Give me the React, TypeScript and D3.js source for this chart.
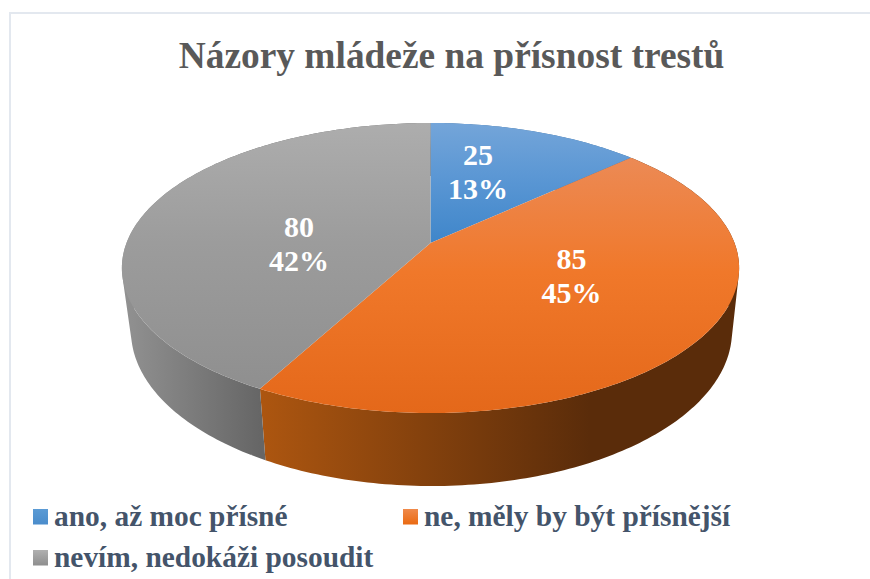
import React from "react";
import * as d3 from "d3";

const categories = ["ano, až moc přísné", "ne, měly by být přísnější", "nevím, nedokáži posoudit"];
const values = [25, 85, 80];
const percents = ["13%", "45%", "42%"];
const titleText = "Názory mládeže na přísnost trestů";
const topColors = [["#74a5d9", "#5b97d4", "#3f86ca"], ["#ec8a55", "#f0782a", "#e4681a"], ["#adadad", "#9c9c9c", "#8f8f8f"]];
const sideColors = [["#3f6f9f", "#3f6f9f"], ["#ad5610", "#5a2c0a"], ["#929292", "#666666"]];
const legendColors = [["#5b9bd5", "#4a8ccb"], ["#f08a4b", "#ea6a12"], ["#b0b0b0", "#8e8e8e"]];
const labelPos = [[478, 171], [571.5, 275], [299, 243]];
const legendPos = [[33, 509], [403, 509], [33, 550]];

const K = 0.1724;
const topDisc = { x0: 430.5, y0: 243, a: 304, b: 140.7 };
const botDisc = { x0: 431.5, y0: 304.3, a: 296, b: 150.4 };

function project(d: typeof topDisc, t: number): [number, number] {
  const u = Math.sin(t), v = -Math.cos(t), q = 1 - K * v;
  return [d.x0 + (d.a * u) / q, d.y0 + (d.b * v) / q];
}
function arcPts(d: typeof topDisc, t0: number, t1: number) {
  const n = Math.max(2, Math.ceil(Math.abs(t1 - t0) * 60));
  return d3.range(n + 1).map((i) => project(d, t0 + ((t1 - t0) * i) / n));
}
const line = d3.line();

function sidePath(t0: number, t1: number) {
  const top = arcPts(topDisc, t0, t1);
  const bot = arcPts(botDisc, t0, t1);
  return d3
    .range(top.length - 1)
    .map((i) => line(d3.polygonHull([top[i], top[i + 1], bot[i], bot[i + 1]])!) + "Z")
    .join("");
}

export default function App() {
  const arcs = d3.pie<number>().sort(null)(values);
  return (
    <svg width={870} height={579} style={{ position: "fixed", left: 0, top: 0, background: "#fff" }} fontFamily="'Liberation Serif'" fontWeight="bold">
      <defs>
        {arcs.map((a, i) => {
          const pts = arcPts(topDisc, a.startAngle, a.endAngle);
          const ys = [...pts.map((p) => p[1]), topDisc.y0];
          return (
            <linearGradient key={i} id={`top${i}`} gradientUnits="userSpaceOnUse" x1={0} x2={0} y1={d3.min(ys)} y2={d3.max(ys)}>
              <stop offset="0" stopColor={topColors[i][0]} />
              <stop offset="0.45" stopColor={topColors[i][1]} />
              <stop offset="1" stopColor={topColors[i][2]} />
            </linearGradient>
          );
        })}
        {arcs.map((a, i) => {
          const pts = arcPts(topDisc, a.startAngle, a.endAngle);
          const xs = pts.map((p) => p[0]).filter((_, j) => pts[j][1] > 250);
          return (
            <linearGradient key={i} id={`side${i}`} gradientUnits="userSpaceOnUse" y1={0} y2={0} x1={d3.min(xs) ?? 0} x2={i === 1 ? 590 : d3.max(xs) ?? 1}>
              <stop offset="0" stopColor={sideColors[i][0]} />
              <stop offset="1" stopColor={sideColors[i][1]} />
            </linearGradient>
          );
        })}
        {legendColors.map((c, i) => (
          <linearGradient key={i} id={`leg${i}`} x1={0} x2={0} y1={0} y2={1}>
            <stop offset="0" stopColor={c[0]} />
            <stop offset="1" stopColor={c[1]} />
          </linearGradient>
        ))}
      </defs>
      <path d="M10 579V13H870" fill="none" stroke="#e3e8ef" strokeWidth={2} />
      <text x={451.5} y={68} textAnchor="middle" fontSize={37.4} fill="#595959">{titleText}</text>
      {arcs.map((a, i) => (
        <path key={i} fill={`url(#side${i})`} d={sidePath(a.startAngle, a.endAngle)} />
      ))}
      {arcs.map((a, i) => (
        <path key={i} fill={`url(#top${i})`} d={line([[topDisc.x0, topDisc.y0], ...arcPts(topDisc, a.startAngle, a.endAngle)]) + "Z"} />
      ))}
      {arcs.map((a, i) => (
        <text key={i} textAnchor="middle" fontSize={30} fill="#fff">
          <tspan x={labelPos[i][0]} y={labelPos[i][1] - 6}>{a.value}</tspan>
          <tspan x={labelPos[i][0]} y={labelPos[i][1] + 28}>{percents[i]}</tspan>
        </text>
      ))}
      {categories.map((c, i) => (
        <g key={i}>
          <rect x={legendPos[i][0]} y={legendPos[i][1]} width={15} height={15.5} fill={`url(#leg${i})`} />
          <text x={legendPos[i][0] + 21} y={legendPos[i][1] + 17} fontSize={29.4} fill="#44546a">{c}</text>
        </g>
      ))}
    </svg>
  );
}
